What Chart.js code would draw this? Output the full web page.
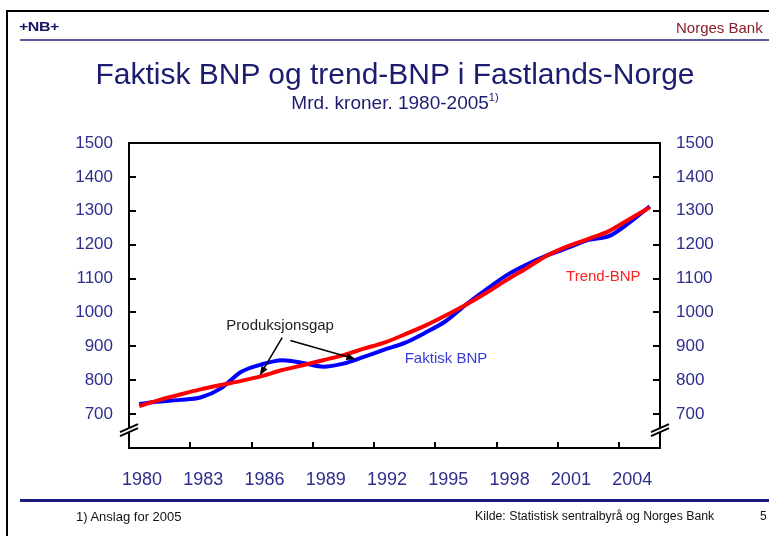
<!DOCTYPE html>
<html>
<head>
<meta charset="utf-8">
<script src="https://cdn.jsdelivr.net/npm/chart.js@4/dist/chart.umd.min.js"></script>
<style>
  html, body { margin: 0; padding: 0; background: #fff; }
  #wrap { position: relative; width: 769px; height: 536px; overflow: hidden; font-family: "Liberation Sans", Arial, sans-serif; }
  #wrap canvas { position: absolute; left: 0; top: 0; }
  .abs { position: absolute; white-space: nowrap; }
  #frameL { left: 6px; top: 10px; width: 2px; height: 526px; background: #000; }
  #frameT { left: 6px; top: 10px; width: 763px; height: 2px; background: #000; }
  #hline { left: 20px; top: 39px; width: 749px; height: 2px; background: #5c5c9c; }
  #fline { left: 20px; top: 499px; width: 749px; height: 3px; background: #1c1c7c; }
  #logo { left: 19px; top: 18px; font: 900 16px "Liberation Sans", Arial; color: #141466; letter-spacing: -0.5px; transform: scaleY(0.75); }
  #bank { left: 676px; top: 19px; font-size: 15px; color: #8c1c2c; }
  #title { left: 0; width: 790px; top: 57px; text-align: center; font-size: 30px; color: #1c1c70; }
  #sub { left: 0; width: 790px; top: 91px; text-align: center; font-size: 19px; color: #1c1c70; }
  #sub sup { font-size: 11px; vertical-align: 8px; }
  #note { left: 76px; top: 509px; font-size: 13px; color: #111; }
  #kilde { left: 475px; top: 509px; font-size: 12.3px; color: #111; }
  #page { left: 760px; top: 509px; font-size: 12px; color: #111; }
</style>
</head>
<body>
<div id="wrap">
  <canvas id="chart" width="769" height="536"></canvas>
  <div class="abs" id="frameL"></div>
  <div class="abs" id="frameT"></div>
  <div class="abs" id="logo">+NB+</div>
  <div class="abs" id="bank">Norges Bank</div>
  <div class="abs" id="hline"></div>
  <div class="abs" id="title">Faktisk BNP og trend-BNP i Fastlands-Norge</div>
  <div class="abs" id="sub">Mrd. kroner. 1980-2005<sup>1)</sup></div>
  <div class="abs" id="fline"></div>
  <div class="abs" id="note">1) Anslag for 2005</div>
  <div class="abs" id="kilde">Kilde: Statistisk sentralbyrå og Norges Bank</div>
  <div class="abs" id="page">5</div>
</div>
<script>
// årstall (plottes midt i året)
const years = [1980, 1981, 1982, 1983, 1984, 1985, 1986, 1987, 1988, 1989, 1990, 1991, 1992,
  1993, 1994, 1995, 1996, 1997, 1998, 1999, 2000, 2001, 2002, 2003, 2004, 2005];

const faktiskBNP = [730, 737, 742, 749, 776, 825, 847, 859, 851, 840, 849, 869, 890,
  910, 940, 974, 1023, 1068, 1110, 1142, 1169, 1191, 1214, 1225, 1265, 1313];

const trendBNP = [724, 742, 758, 773, 786, 798, 812, 830, 844, 859, 874, 893, 911,
  935, 961, 991, 1023, 1058, 1096, 1132, 1169, 1196, 1217, 1240, 1275, 1310];

const xTicks = [1980, 1983, 1986, 1989, 1992, 1995, 1998, 2001, 2004];
const yTicks = [700, 800, 900, 1000, 1100, 1200, 1300, 1400, 1500];

const navy = '#2e2e8c';
const toPoints = vals => vals.map((v, i) => ({ x: years[i] + 0.5, y: v }));

// innovervendte tickmerker, toppramme og bruddsymbol
const axisDeco = {
  id: 'axisDeco',
  afterDraw(chart) {
    const { ctx, chartArea: a, scales } = chart;
    ctx.save();
    ctx.strokeStyle = '#000';
    ctx.lineWidth = 2;
    ctx.beginPath();
    ctx.moveTo(a.left - 1, a.top);
    ctx.lineTo(a.right + 1, a.top);
    scales.y.ticks.forEach(t => {
      const py = Math.round(scales.y.getPixelForValue(t.value));
      ctx.moveTo(a.left, py); ctx.lineTo(a.left + 7, py);
      ctx.moveTo(a.right, py); ctx.lineTo(a.right - 7, py);
    });
    scales.x.ticks.forEach(t => {
      if (t.value === scales.x.min) return;
      const px = Math.round(scales.x.getPixelForValue(t.value));
      ctx.moveTo(px, a.bottom); ctx.lineTo(px, a.bottom - 6);
    });
    ctx.stroke();

    const by = scales.y.getPixelForValue(650);
    [a.left, a.right].forEach(bx => {
      ctx.fillStyle = '#fff';
      ctx.beginPath();
      ctx.moveTo(bx - 9, by + 1);
      ctx.lineTo(bx + 9, by - 7);
      ctx.lineTo(bx + 9, by - 3);
      ctx.lineTo(bx - 9, by + 5);
      ctx.closePath();
      ctx.fill();
      ctx.beginPath();
      ctx.moveTo(bx - 9, by + 1); ctx.lineTo(bx + 9, by - 7);
      ctx.moveTo(bx - 9, by + 5); ctx.lineTo(bx + 9, by - 3);
      ctx.stroke();
    });
    ctx.restore();
  }
};

function arrow(ctx, x1, y1, x2, y2) {
  const ang = Math.atan2(y2 - y1, x2 - x1);
  ctx.beginPath();
  ctx.moveTo(x1, y1);
  ctx.lineTo(x2 - 6 * Math.cos(ang), y2 - 6 * Math.sin(ang));
  ctx.stroke();
  ctx.beginPath();
  ctx.moveTo(x2, y2);
  ctx.lineTo(x2 - 10 * Math.cos(ang - 0.35), y2 - 10 * Math.sin(ang - 0.35));
  ctx.lineTo(x2 - 10 * Math.cos(ang + 0.35), y2 - 10 * Math.sin(ang + 0.35));
  ctx.closePath();
  ctx.fill();
}

// tekster og piler inne i plottet
const notes = {
  id: 'notes',
  afterDatasetsDraw(chart) {
    const { ctx, scales: { x, y } } = chart;
    const X = v => x.getPixelForValue(v), Y = v => y.getPixelForValue(v);
    ctx.save();
    ctx.font = '15px "Liberation Sans", Arial';
    ctx.fillStyle = '#222';
    ctx.textAlign = 'center';
    ctx.textBaseline = 'middle';
    ctx.fillText('Produksjonsgap', X(1987.4), Y(960));
    ctx.strokeStyle = '#000';
    ctx.fillStyle = '#000';
    ctx.lineWidth = 1.5;
    arrow(ctx, X(1987.5), Y(926), X(1986.4), Y(814));
    arrow(ctx, X(1987.9), Y(917), X(1991.1), Y(862));
    ctx.textAlign = 'left';
    ctx.font = '15px "Liberation Sans", Arial';
    ctx.fillStyle = '#3a3ad6';
    ctx.fillText('Faktisk BNP', X(1993.5), Y(864));
    ctx.fillStyle = '#ff2020';
    ctx.fillText('Trend-BNP', X(2001.4), Y(1106));
    ctx.restore();
  }
};

new Chart(document.getElementById('chart'), {
  type: 'line',
  data: {
    datasets: [{
      label: 'Trend-BNP',
      data: toPoints(trendBNP),
      borderColor: '#ff0000',
      borderWidth: 4,
      pointRadius: 0,
      tension: 0.3
    }, {
      label: 'Faktisk BNP',
      data: toPoints(faktiskBNP),
      borderColor: '#0000ff',
      borderWidth: 4,
      pointRadius: 0,
      tension: 0.3
    }]
  },
  options: {
    responsive: false,
    animation: false,
    layout: { padding: { top: 143, left: 0, right: 0, bottom: 0 } },
    plugins: { legend: { display: false }, tooltip: { enabled: false } },
    scales: {
      x: {
        type: 'linear',
        min: 1980,
        max: 2006,
        afterBuildTicks: s => { s.ticks = xTicks.map(v => ({ value: v })); },
        afterFit: s => { s.height = 88; },
        grid: { display: false },
        border: { display: true, color: '#000', width: 2 },
        ticks: {
          autoSkip: false,
          maxRotation: 0,
          labelOffset: 13,
          padding: 13,
          color: navy,
          font: { family: '"Liberation Sans", Arial', size: 18 },
          callback: v => String(v)
        }
      },
      y: {
        position: 'left',
        min: 600,
        max: 1500,
        afterBuildTicks: s => { s.ticks = yTicks.map(v => ({ value: v })); },
        afterFit: s => { s.width = 129; },
        grid: { display: false },
        border: { display: true, color: '#000', width: 2 },
        ticks: { padding: 8, color: navy, font: { family: '"Liberation Sans", Arial', size: 17 }, callback: v => String(v) }
      },
      y2: {
        position: 'right',
        min: 600,
        max: 1500,
        afterBuildTicks: s => { s.ticks = yTicks.map(v => ({ value: v })); },
        afterFit: s => { s.width = 109; },
        grid: { display: false },
        border: { display: true, color: '#000', width: 2 },
        ticks: { padding: 8, color: navy, font: { family: '"Liberation Sans", Arial', size: 17 }, callback: v => String(v) }
      }
    }
  },
  plugins: [axisDeco, notes]
});
</script>
</body>
</html>
